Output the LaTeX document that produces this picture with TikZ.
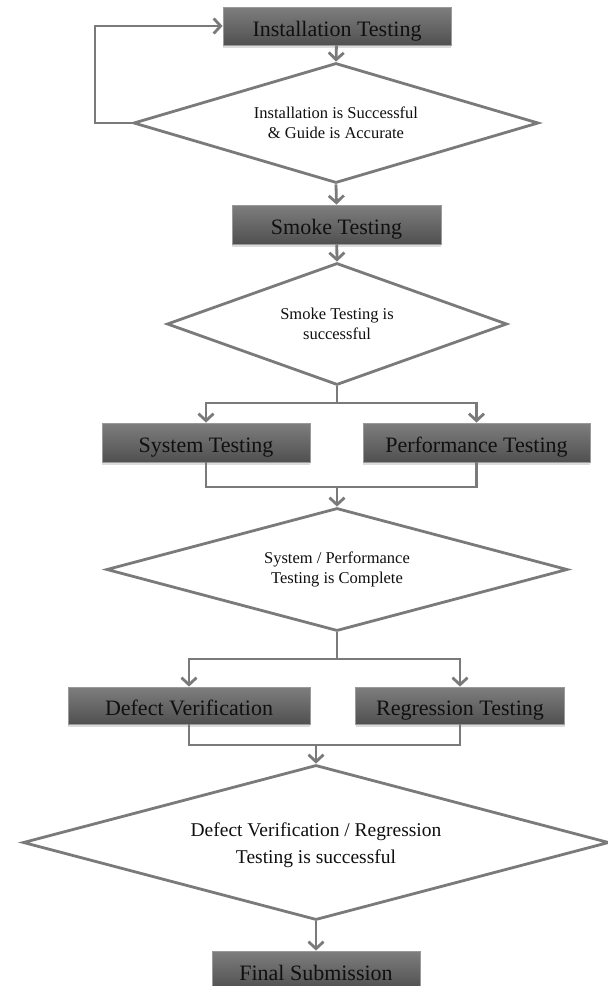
\documentclass[tikz,border=0pt]{standalone}
\usepackage{fontspec}
\setmainfont{Liberation Serif}
\usetikzlibrary{shapes.geometric,arrows.meta,shadows}

\definecolor{boxtop}{HTML}{7E7E7E}
\definecolor{boxbot}{HTML}{505050}
\definecolor{boxedge}{HTML}{9A9A9A}
\definecolor{linkgray}{HTML}{7A7A7A}
\definecolor{inktext}{HTML}{101010}

\tikzset{
  stagebox/.style={rectangle, draw=boxedge, line width=0.8pt,
    top color=boxtop, bottom color=boxbot, inner sep=0pt,
    text height=20pt, text depth=0pt,
    text=inktext, font=\fontsize{22}{24}\selectfont,
    drop shadow={shadow xshift=0pt, shadow yshift=-2.5pt, opacity=.35, fill=black!40}},
  gate/.style={diamond, draw=linkgray, line width=2.8pt, inner sep=0pt, fill=white},
  gatetext/.style={align=center, text=inktext, inner sep=0pt,
    font=\fontsize{16.5}{20.5}\selectfont},
  link/.style={draw=linkgray, line width=2.8pt},
  flow/.style={link, -{Straight Barb[length=7pt,width=15pt]}},
}

\begin{document}
\begin{tikzpicture}[x=1pt, y=-1pt]
\useasboundingbox (0,0) rectangle (608,986);

% stage boxes
\node[stagebox, minimum width=228pt, minimum height=38pt] (inst) at (337,26) {Installation Testing};
\node[stagebox, minimum width=209pt, minimum height=39pt] (smoke) at (336.5,224.5) {Smoke Testing};
\node[stagebox, minimum width=208pt, minimum height=39pt] (sys) at (206,442.5) {System Testing};
\node[stagebox, minimum width=227pt, minimum height=39pt] (perf) at (476.5,442.5) {Performance Testing};
\node[stagebox, minimum width=242pt, minimum height=37pt] (defect) at (189,705.5) {Defect Verification};
\node[stagebox, minimum width=209pt, minimum height=37pt] (regr) at (460,705.5) {Regression Testing};
\node[stagebox, minimum width=208pt, minimum height=38pt] (final) at (316,970) {Final Submission};

% decision gates
\node[gate, minimum width=405pt, minimum height=120pt] (d1) at (336,123) {};
\node[gatetext] at (d1.center) {Installation is Successful\\\& Guide is Accurate};
\node[gate, minimum width=340pt, minimum height=122pt] (d2) at (337,324) {};
\node[gatetext] at (d2.center) {Smoke Testing is\\successful};
\node[gate, minimum width=461pt, minimum height=123pt] (d3) at (337,569.5) {};
\node[gatetext] at (d3.center) {System / Performance\\Testing is Complete};
\node[gate, minimum width=586pt, minimum height=155pt] (d4) at (316,842.5) {};
\node[gatetext, font=\fontsize{19.5}{27}\selectfont] at ([yshift=-3pt]d4.center) {Defect Verification / Regression\\Testing is successful};

% junction points
\coordinate (back) at (95,123);
\coordinate (split1) at (337,403);
\coordinate (join1) at (337,487);
\coordinate (split2) at (337,659);
\coordinate (join2) at (316,745);

% connectors
\draw[flow] (inst) -- (d1.north);
\draw[flow] (d1.west) -- (back) |- (inst.west);
\draw[flow] (d1.south) -- (smoke.north);
\draw[flow] (smoke) -- (d2.north);

\draw[link] (d2.south) -- (split1);
\draw[flow] (split1) -| (sys.north);
\draw[flow] (split1) -| (perf.north);
\draw[link] (sys.south) -- (sys.south |- join1) -- (perf.south |- join1) -- (perf.south);
\draw[flow] (join1) -- (d3.north);

\draw[link] (d3.south) -- (split2);
\draw[flow] (split2) -| (defect.north);
\draw[flow] (split2) -| (regr.north);
\draw[link] (defect.south) -- (defect.south |- join2) -- (regr.south |- join2) -- (regr.south);
\draw[flow] (join2) -- (d4.north);
\draw[flow] (d4.south) -- (final.north);
\end{tikzpicture}
\end{document}
